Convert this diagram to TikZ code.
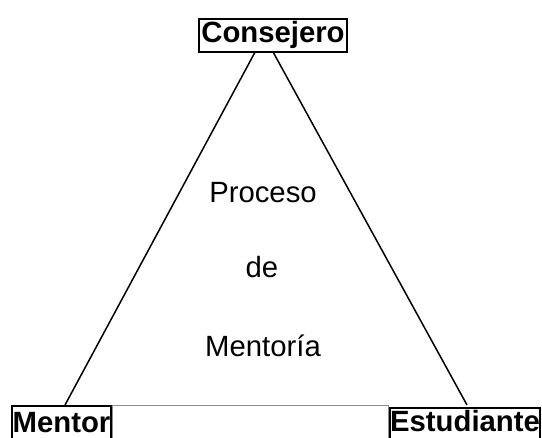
\documentclass[tikz,border=0pt]{standalone}
\usepackage{fontspec}
\setmainfont{Liberation Sans}
\begin{document}
\begin{tikzpicture}[x=1pt,y=-1pt,
  side/.style={line width=1.5pt},
  base/.style={draw=black!45,line width=1pt},
  vbox/.style={draw,line width=2pt,fill=white,inner sep=0pt,
    font=\fontsize{29.3}{34}\bfseries\selectfont,text height=21pt},
  midtext/.style={anchor=base,inner sep=0pt,font=\fontsize{29.3}{34}\selectfont}]
\useasboundingbox (0,0) rectangle (542,438);
\fill[white] (0,0) rectangle (542,438);
% triangle sides
\coordinate (apex) at (264,35.5);
\coordinate (bl) at (65,405);
\coordinate (br) at (467,405);
\draw[side] (apex) -- (bl);
\draw[side] (apex) -- (br);
% grey base
\coordinate (g1) at (112,445);
\coordinate (g2) at (112,406);
\coordinate (g3) at (388,406);
\coordinate (g4) at (388,445);
\draw[base] (g1) -- (g2) -- (g3) -- (g4);
% boxes
\node[vbox,minimum width=148pt,minimum height=33pt,text depth=6pt] (cons) at (273,35.5) {Consejero};
\node[vbox,minimum width=99pt,minimum height=36pt,text depth=3pt] (ment) at (61.5,424) {Mentor};
\node[vbox,minimum width=148pt,minimum height=34pt,text depth=7pt] (est) at (465,425) {Estudiante};
% middle text
\node[midtext] (t1) at (263,203) {Proceso};
\node[midtext] (t2) at (262,278) {de};
\node[midtext] (t3) at (263,357) {Mentoría};
\end{tikzpicture}
\end{document}
